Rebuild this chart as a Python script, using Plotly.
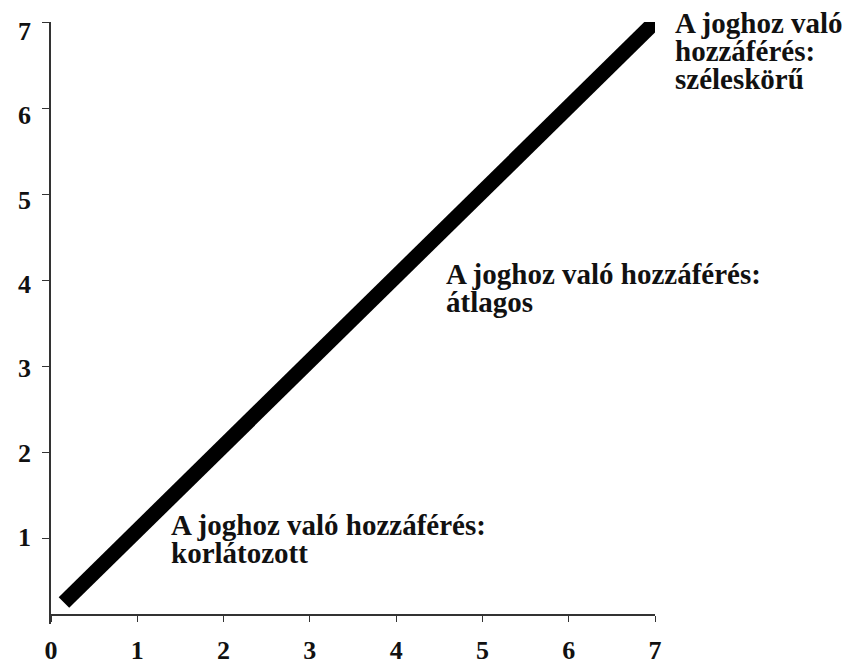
import plotly.graph_objects as go

line_x = [0.15, 7.0]
line_y = [0.25, 7.0]

x_ticks = [0, 1, 2, 3, 4, 5, 6, 7]
y_ticks = [1, 2, 3, 4, 5, 6, 7]

label_lines = [
    ["A joghoz való hozzáférés:", "korlátozott"],
    ["A joghoz való hozzáférés:", "átlagos"],
    ["A joghoz való", "hozzáférés:", "széleskörű"],
]
label_x = [1.37, 4.55, 7.0]
label_y = [1.15, 4.07, 6.99]
label_xshift = [0, 0, 18]

FONT = "Liberation Serif"
LINE_GAP = 28

fig = go.Figure()
fig.add_trace(go.Scatter(x=line_x, y=line_y, mode="lines",
                         line=dict(color="black", width=15),
                         hoverinfo="skip", showlegend=False))
# empty trace to activate the label-only y axis
fig.add_trace(go.Scatter(x=[], y=[], yaxis="y2", showlegend=False, hoverinfo="skip"))

for lines, x, y, xs in zip(label_lines, label_x, label_y, label_xshift):
    for i, t in enumerate(lines):
        fig.add_annotation(x=x, y=y, xref="x", yref="y", text=t, showarrow=False,
                           xanchor="left", yanchor="middle", align="left",
                           xshift=xs, yshift=-LINE_GAP * i,
                           font=dict(family=FONT, size=29, color="#111", weight="bold"))

tick_font = dict(family=FONT, size=26, color="#111", weight="bold")

# the page body adds an 8px offset, so margins are reduced by 8px on top/left
fig.update_layout(
    width=854, height=662,
    margin=dict(l=43, r=207, t=14, b=46),
    plot_bgcolor="white", paper_bgcolor="white",
    xaxis=dict(range=[0, 7], tickvals=x_ticks, showgrid=False, zeroline=False,
               showline=True, linecolor="#333", linewidth=1.5,
               ticks="outside", ticklen=6, tickcolor="#333",
               anchor="free", position=0.015, automargin=False,
               ticklabelstandoff=6, ticklabeloverflow="allow",
               tickfont=tick_font),
    yaxis=dict(range=[0, 7], tickvals=y_ticks, showgrid=False, zeroline=False,
               showline=True, linecolor="#333", linewidth=1.5,
               ticks="outside", ticklen=7, tickcolor="#333", automargin=False,
               showticklabels=False),
    # tick labels in the reference sit on a slightly compressed scale
    yaxis2=dict(range=[-0.032, 7.107], tickvals=y_ticks, overlaying="y", side="left",
                anchor="x", showgrid=False, zeroline=False, showline=False,
                ticks="", automargin=False, ticklabelstandoff=19,
                ticklabeloverflow="allow", tickfont=tick_font),
)

fig.write_html("out.html")
